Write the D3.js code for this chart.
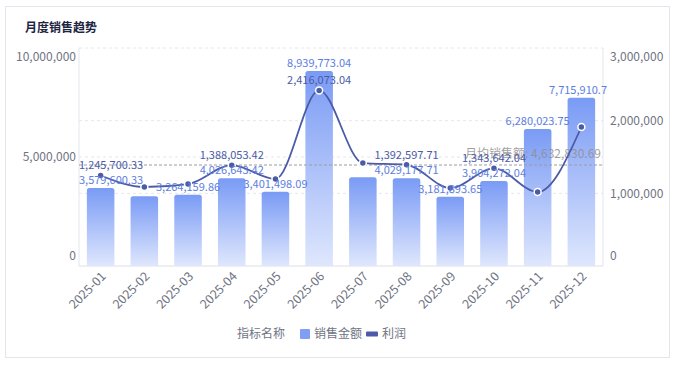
<!DOCTYPE html>
<html>
<head>
<meta charset="utf-8">
<script src="https://cdn.jsdelivr.net/npm/d3@7"></script>
<style>
  body { margin: 0; background: #fff; font-family: "Noto Sans CJK SC", "Noto Sans", sans-serif; }
  svg { display: block; }
</style>
</head>
<body>
<svg id="chart" width="674" height="366"></svg>
<script>
/* global d3 */
var months = ['2025-01', '2025-02', '2025-03', '2025-04', '2025-05', '2025-06',
    '2025-07', '2025-08', '2025-09', '2025-10', '2025-11', '2025-12'];
var sales = [3579600.33, 3195432.18, 3264159.86, 4026643.42, 3401498.09, 8939773.04,
    4075583.51, 4029177.71, 3181893.65, 3904272.04, 6280023.75, 7715910.7];
var profit = [1245700.33, 1087000, 1128000, 1388053.42, 1197000, 2416073.04,
    1417000, 1392597.71, 1073000, 1343642.04, 1018000, 1913000];
// labels the chart hid because they overlapped
var salesLabelShown = [1, 0, 1, 1, 1, 1, 0, 1, 1, 1, 1, 1];
var profitLabelShown = [1, 0, 0, 1, 0, 1, 0, 1, 0, 1, 0, 0];
var leftTicks = [0, 5000000, 10000000];
var rightTicks = [0, 1000000, 2000000, 3000000];
var legendTitle = '指标名称';
var seriesNames = ['销售金额', '利润'];

(function() {
    'use strict';
    var svg = d3.select('#chart'),
    left = 79, right = 603, top = 48, bottom = 266,
    fmt = d3.format(',.2~f'),
    avg = d3.mean(sales);

    svg.append('rect').attr('x', 5.5).attr('y', 6.5).attr('width', 664).attr('height', 351)
        .attr('fill', '#fff').attr('stroke', '#e3e6ec');

    svg.append('text').attr('x', 25).attr('y', 32).text('月度销售趋势')
        .attr('font-size', 12).attr('font-weight', 'bold').attr('fill', '#1d2541');

    var defs = svg.append('defs');
    var grad = defs.append('linearGradient').attr('id', 'barGrad')
        .attr('x1', 0).attr('y1', 0).attr('x2', 0).attr('y2', 1);
    grad.append('stop').attr('offset', '0%').attr('stop-color', '#7a9bf5');
    grad.append('stop').attr('offset', '100%').attr('stop-color', '#dfe7fd');

    var x = d3.scaleBand().domain(months).range([left, right]).paddingInner(0.37).paddingOuter(0.18),
    yL = d3.scaleLinear().domain([0, 10000000]).range([bottom, top]),
    yR = d3.scaleLinear().domain([0, 3000000]).range([bottom, top]),
    cx = function(m) { return x(m) + x.bandwidth() / 2; };

    // grid lines
    var grid = svg.append('g');
    var gridYs = rightTicks.slice(1).map(yR).concat([yL(5000000)]);
    grid.selectAll('line').data(gridYs).enter().append('line')
        .attr('x1', left).attr('x2', right).attr('y1', function(d) { return d; })
        .attr('y2', function(d) { return d; })
        .attr('stroke', '#e4e6ea').attr('stroke-dasharray', '3,3');

    // axis lines
    svg.append('line').attr('x1', left).attr('x2', left).attr('y1', top).attr('y2', bottom).attr('stroke', '#e3e6ee');
    svg.append('line').attr('x1', right).attr('x2', right).attr('y1', top).attr('y2', bottom).attr('stroke', '#e3e6ee');
    svg.append('line').attr('x1', left).attr('x2', right).attr('y1', bottom).attr('y2', bottom).attr('stroke', '#dcdfe6');

    // axis labels (kept inside the plot's vertical range)
    var clampY = function(y) { return Math.max(top + 9, Math.min(bottom - 10, y)); };
    svg.append('g').selectAll('text').data(leftTicks).enter().append('text')
        .attr('x', left - 3).attr('y', function(d) { return clampY(yL(d)); })
        .attr('dy', '0.35em').attr('text-anchor', 'end').attr('font-size', 12).attr('fill', '#6f7483')
        .text(d3.format(','));
    svg.append('g').selectAll('text').data(rightTicks).enter().append('text')
        .attr('x', right + 7).attr('y', function(d) { return clampY(yR(d)); })
        .attr('dy', '0.35em').attr('text-anchor', 'start').attr('font-size', 12).attr('fill', '#6f7483')
        .text(d3.format(','));

    svg.append('g').selectAll('text').data(months).enter().append('text')
        .attr('transform', function(d) { return 'translate(' + (cx(d) + 3) + ',' + (bottom + 8) + ') rotate(-45)'; })
        .attr('text-anchor', 'end').attr('dy', '0.35em').attr('font-size', 12.5).attr('fill', '#6f7483')
        .text(function(d) { return d; });

    // bars
    svg.append('g').selectAll('path').data(sales).enter().append('path')
        .attr('fill', 'url(#barGrad)')
        .attr('d', function(d, i) {
            var x0 = x(months[i]), w = x.bandwidth(), y0 = yL(d), r = 2.5;
            return 'M' + x0 + ',' + bottom + 'V' + (y0 + r) + 'Q' + x0 + ',' + y0 + ' ' + (x0 + r) + ',' + y0 +
                'H' + (x0 + w - r) + 'Q' + (x0 + w) + ',' + y0 + ' ' + (x0 + w) + ',' + (y0 + r) + 'V' + bottom + 'Z';
        });

    // average line
    svg.append('line').attr('x1', left).attr('x2', right).attr('y1', yL(avg)).attr('y2', yL(avg))
        .attr('stroke', '#9a9ca3').attr('stroke-dasharray', '3,2');
    svg.append('text').attr('x', right - 2).attr('y', yL(avg) - 7).attr('text-anchor', 'end')
        .attr('font-size', 12).attr('fill', '#8e8e8e').attr('fill-opacity', 0.85)
        .text('月均销售额: ' + fmt(avg));

    // profit line
    var line = d3.line().x(function(d, i) { return cx(months[i]); }).y(function(d) { return yR(d); })
        .curve(d3.curveMonotoneX);
    svg.append('path').datum(profit).attr('d', line).attr('fill', 'none')
        .attr('stroke', '#4c5ba8').attr('stroke-width', 1.8);
    svg.append('g').selectAll('circle').data(profit).enter().append('circle')
        .attr('cx', function(d, i) { return cx(months[i]); }).attr('cy', function(d) { return yR(d); })
        .attr('r', 3.5).attr('fill', '#4c5ba8').attr('stroke', '#fff').attr('stroke-width', 1.5);

    // data labels, clamped to the plot width
    var addLabels = function(vals, shown, yScale, off, color) {
        svg.append('g').selectAll('text').data(vals).enter().filter(function(d, i) { return shown[i]; })
            .append('text')
            .attr('font-size', 11).attr('fill', color).attr('text-anchor', 'middle')
            .attr('y', function(d) { return yScale(d) - off; })
            .text(function(d) { return fmt(d); })
            .attr('x', function(d) {
                var i = vals.indexOf(d), w = this.getComputedTextLength(), c = cx(months[i]);
                return Math.max(left + w / 2, Math.min(right + 4 - w / 2, c));
            });
    };
    addLabels(sales, salesLabelShown, yL, 4, '#5d7ee0');
    addLabels(profit, profitLabelShown, yR, 6, '#4b5aa6');

    // legend
    var lg = svg.append('g').attr('transform', 'translate(237,334)');
    lg.append('text').attr('x', 0).attr('y', 0).attr('dy', '0.35em').attr('font-size', 12)
        .attr('fill', '#6f7483').text(legendTitle);
    lg.append('rect').attr('x', 63).attr('y', -5).attr('width', 10).attr('height', 10).attr('rx', 1).attr('fill', '#7f9ff5');
    lg.append('text').attr('x', 77).attr('y', 0).attr('dy', '0.35em').attr('font-size', 12)
        .attr('fill', '#6f7483').text(seriesNames[0]);
    lg.append('rect').attr('x', 129).attr('y', -2.5).attr('width', 12).attr('height', 5).attr('rx', 1).attr('fill', '#4c5ba8');
    lg.append('text').attr('x', 145).attr('y', 0).attr('dy', '0.35em').attr('font-size', 12)
        .attr('fill', '#6f7483').text(seriesNames[1]);
}());
</script>
</body>
</html>
